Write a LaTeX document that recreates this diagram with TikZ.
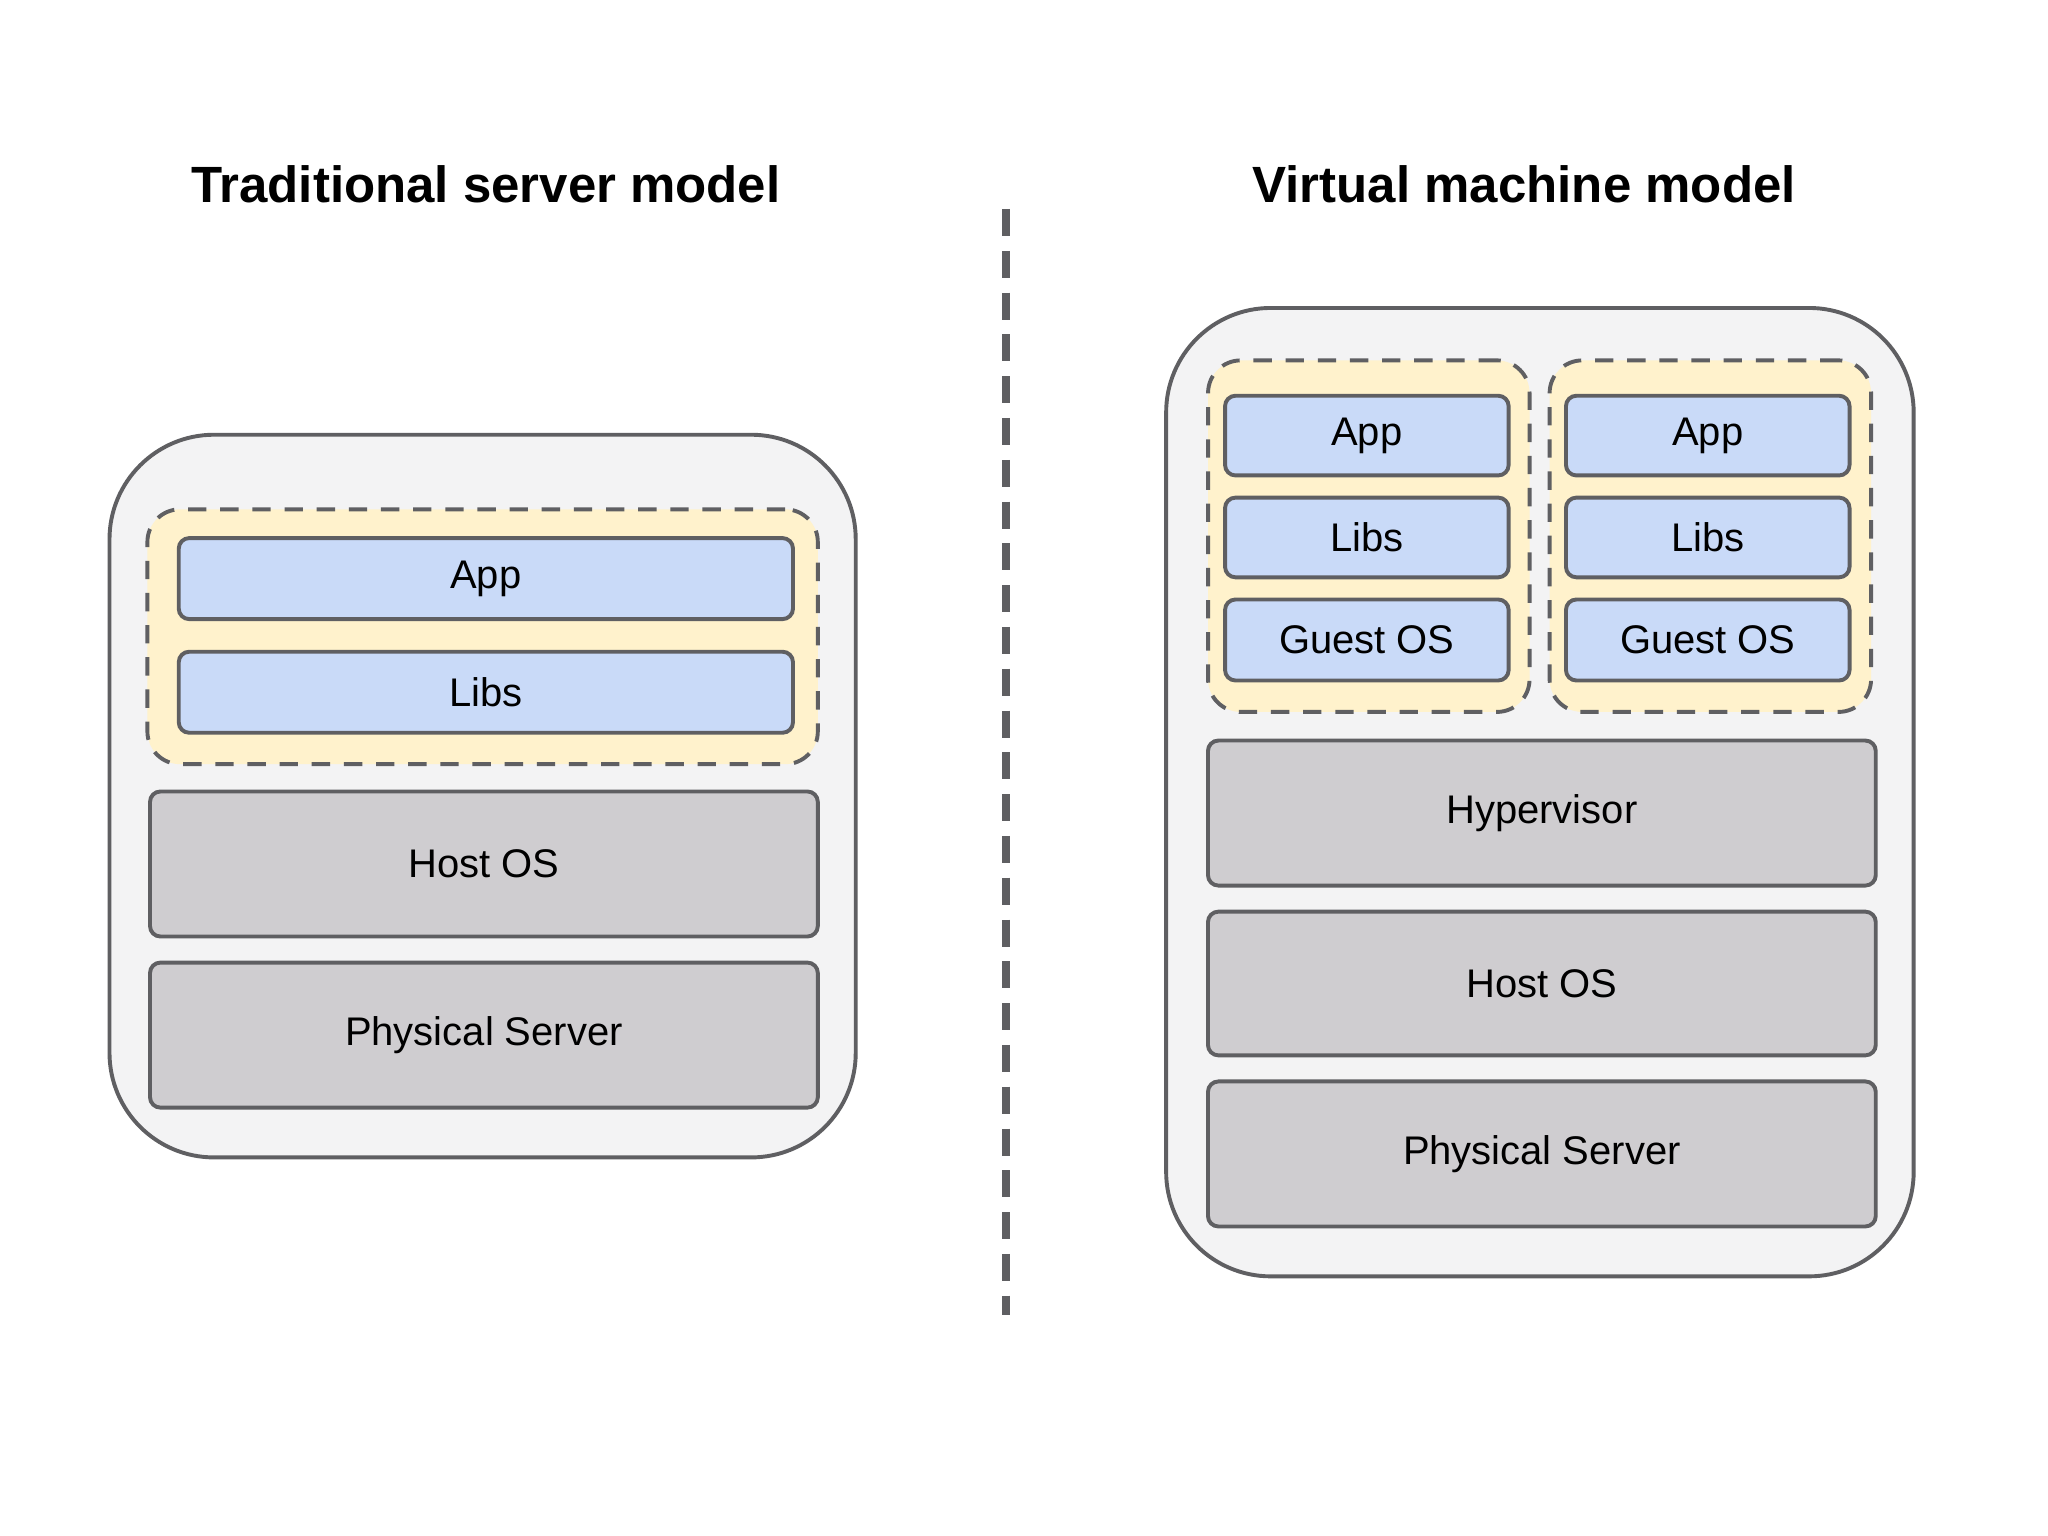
\documentclass[tikz,border=0pt]{standalone}
\usepackage{fontspec}
\setmainfont{Liberation Sans}
\definecolor{boxline}{HTML}{5F5F62}
\definecolor{outerfill}{HTML}{F3F3F4}
\definecolor{yellowfill}{HTML}{FFF2CC}
\definecolor{bluefill}{HTML}{C9DAF8}
\definecolor{grayfill}{HTML}{CFCDD0}

\begin{document}
\begin{tikzpicture}[x=0.01cm,y=-0.01cm,
  outer/.style={draw=boxline, line width=0.85pt, fill=outerfill, rounded corners=0.8cm},
  group/.style={draw=boxline, line width=0.85pt, fill=yellowfill, dashed, dash pattern=on 4pt off 3pt, rounded corners=0.25cm},
  layer/.style={draw=boxline, line width=0.85pt, rounded corners=0.08cm, inner sep=0pt,
    font=\fontsize{8.7}{11}\selectfont},
  blue layer/.style={layer, fill=bluefill},
  gray layer/.style={layer, fill=grayfill},
  title/.style={font=\fontsize{11.1}{14}\selectfont\bfseries}]
\useasboundingbox (0,0) rectangle (1568,1176);
\fill[white] (0,0) rectangle (1568,1176);

% titles and divider
\node[title] (ttrad) at (372,141) {Traditional server model};
\node[title] (tvirt) at (1167,141) {Virtual machine model};
\coordinate (dtop) at (770,160);
\coordinate (dbot) at (770,1007);
\draw[boxline, line width=1.7pt, dash pattern=on 5.9pt off 3.2pt] (dtop) -- (dbot);

% traditional server model
\node[outer, minimum width=5.71cm, minimum height=5.53cm] (lout) at (369.5,609.5) {};
\node[group, minimum width=5.13cm, minimum height=1.95cm] (lgrp) at (369.5,487.5) {};
\node[blue layer, minimum width=4.70cm, minimum height=0.62cm] (lapp) at (372,443) {App};
\node[blue layer, minimum width=4.70cm, minimum height=0.62cm] (llibs) at (372,530) {Libs};
\node[gray layer, minimum width=5.11cm, minimum height=1.11cm] (lhost) at (370.5,661.5) {Host OS};
\node[gray layer, minimum width=5.11cm, minimum height=1.11cm] (lphys) at (370.5,792.5) {Physical Server};

% virtual machine model
\node[outer, minimum width=5.72cm, minimum height=7.41cm] (rout) at (1179,606.5) {};
\foreach \x/\n in {1048/a, 1309.5/b}{
  \node[group, minimum width=2.46cm, minimum height=2.69cm] (grp\n) at (\x,410.5) {};
}
\foreach \x/\n in {1046.5/a, 1307.5/b}{
  \node[blue layer, minimum width=2.17cm, minimum height=0.61cm] (app\n) at (\x,333.5) {App};
  \node[blue layer, minimum width=2.17cm, minimum height=0.61cm] (libs\n) at (\x,411.5) {Libs};
  \node[blue layer, minimum width=2.17cm, minimum height=0.62cm] (guest\n) at (\x,490) {Guest OS};
}
\node[gray layer, minimum width=5.11cm, minimum height=1.11cm] (hyper) at (1180.5,622.5) {Hypervisor};
\node[gray layer, minimum width=5.11cm, minimum height=1.10cm] (rhost) at (1180.5,753) {Host OS};
\node[gray layer, minimum width=5.11cm, minimum height=1.11cm] (rphys) at (1180.5,883.5) {Physical Server};
\end{tikzpicture}
\end{document}
